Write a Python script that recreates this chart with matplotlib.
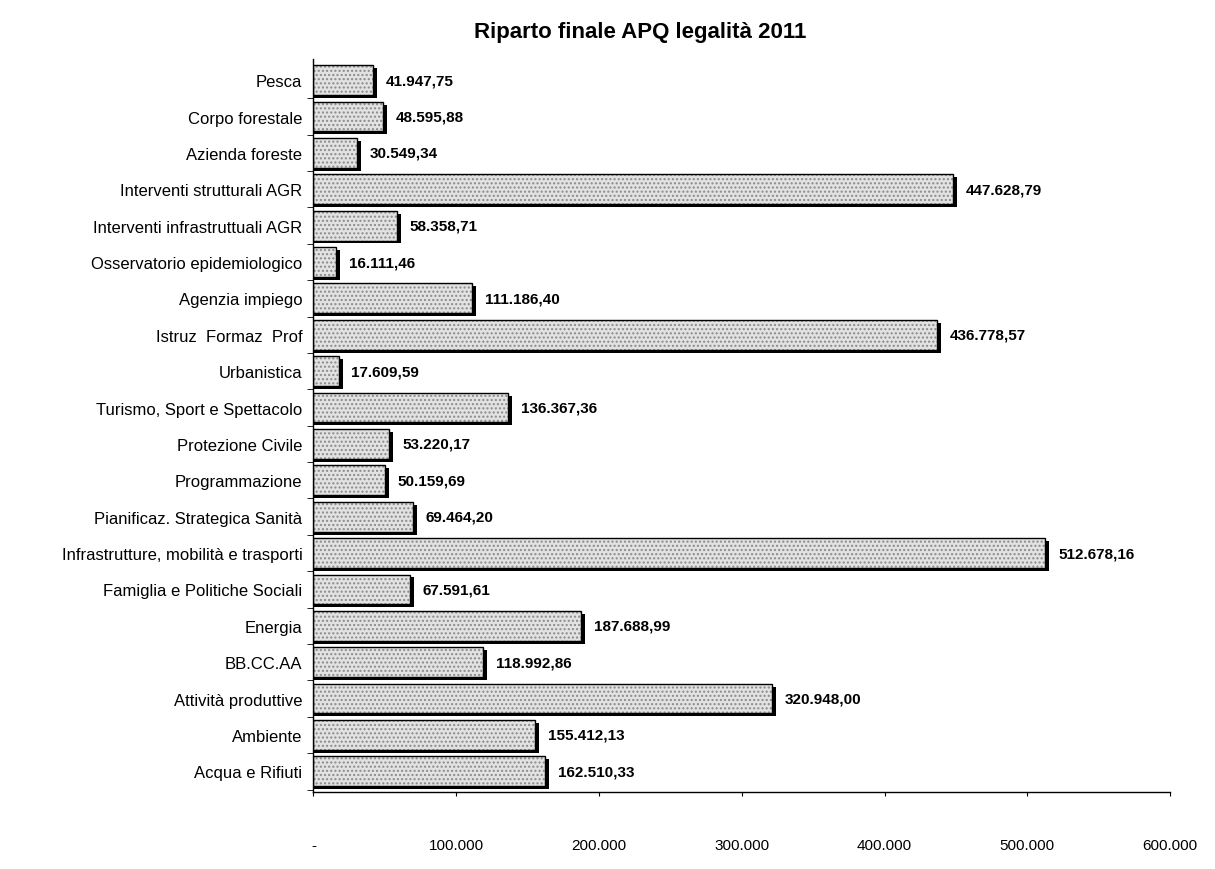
import matplotlib
matplotlib.use('Agg')
import matplotlib.pyplot as plt

plt.rcParams['font.family'] = ['Liberation Sans', 'DejaVu Sans']

voci = ['Pesca', 'Corpo forestale', 'Azienda foreste', 'Interventi strutturali AGR',
        'Interventi infrastruttuali AGR', 'Osservatorio epidemiologico', 'Agenzia impiego',
        'Istruz  Formaz  Prof', 'Urbanistica', 'Turismo, Sport e Spettacolo',
        'Protezione Civile', 'Programmazione', 'Pianificaz. Strategica Sanità',
        'Infrastrutture, mobilità e trasporti', 'Famiglia e Politiche Sociali', 'Energia',
        'BB.CC.AA', 'Attività produttive', 'Ambiente', 'Acqua e Rifiuti']
importi = [41947.75, 48595.88, 30549.34, 447628.79, 58358.71, 16111.46, 111186.40,
           436778.57, 17609.59, 136367.36, 53220.17, 50159.69, 69464.20, 512678.16,
           67591.61, 187688.99, 118992.86, 320948.00, 155412.13, 162510.33]
xticks = [0, 100000, 200000, 300000, 400000, 500000, 600000]
xlabels = ['-', '100.000', '200.000', '300.000', '400.000', '500.000', '600.000']


def it(v):
    s = f'{v:,.2f}'
    return s.replace(',', 'X').replace('.', ',').replace('X', '.')


fig = plt.figure(figsize=(12.15, 8.7), dpi=100)
ax = fig.add_axes([0.258, 0.088, 0.705, 0.843])

pos = list(range(len(voci)))
# ombra nera a destra e sotto
ax.barh([p + 0.08 for p in pos], [v + 2800 for v in importi], height=0.82, color='black',
        linewidth=0, zorder=1)
ax.barh(pos, importi, height=0.82, color='#e2e2e2', edgecolor='#8a8a8a',
        hatch='....', linewidth=0, zorder=2)
ax.barh(pos, importi, height=0.82, facecolor='none', edgecolor='black', linewidth=1, zorder=3)

for p, v in zip(pos, importi):
    ax.text(v + 9000, p, it(v), va='center', ha='left', fontsize=11, fontweight='bold')

ax.set_ylim(len(voci) - 0.42, -0.58)
ax.set_xlim(0, 600000)
ax.set_yticks(pos)
ax.set_yticklabels(voci, fontsize=12)
ax.set_yticks([i + 0.5 for i in pos], minor=True)
ax.tick_params(axis='y', which='major', length=0, pad=8)
ax.tick_params(axis='y', which='minor', length=4, direction='out')
ax.set_xticks(xticks)
ax.set_xticklabels(xlabels, fontsize=11)
ax.tick_params(axis='x', length=3, pad=30)

for s in ['top', 'right']:
    ax.spines[s].set_visible(False)
ax.spines['left'].set_linewidth(1)
ax.spines['bottom'].set_linewidth(1)

fig.suptitle('Riparto finale APQ legalità 2011', x=0.527, y=0.975, fontsize=16, fontweight='bold')

fig.savefig('out.png', dpi=100)
